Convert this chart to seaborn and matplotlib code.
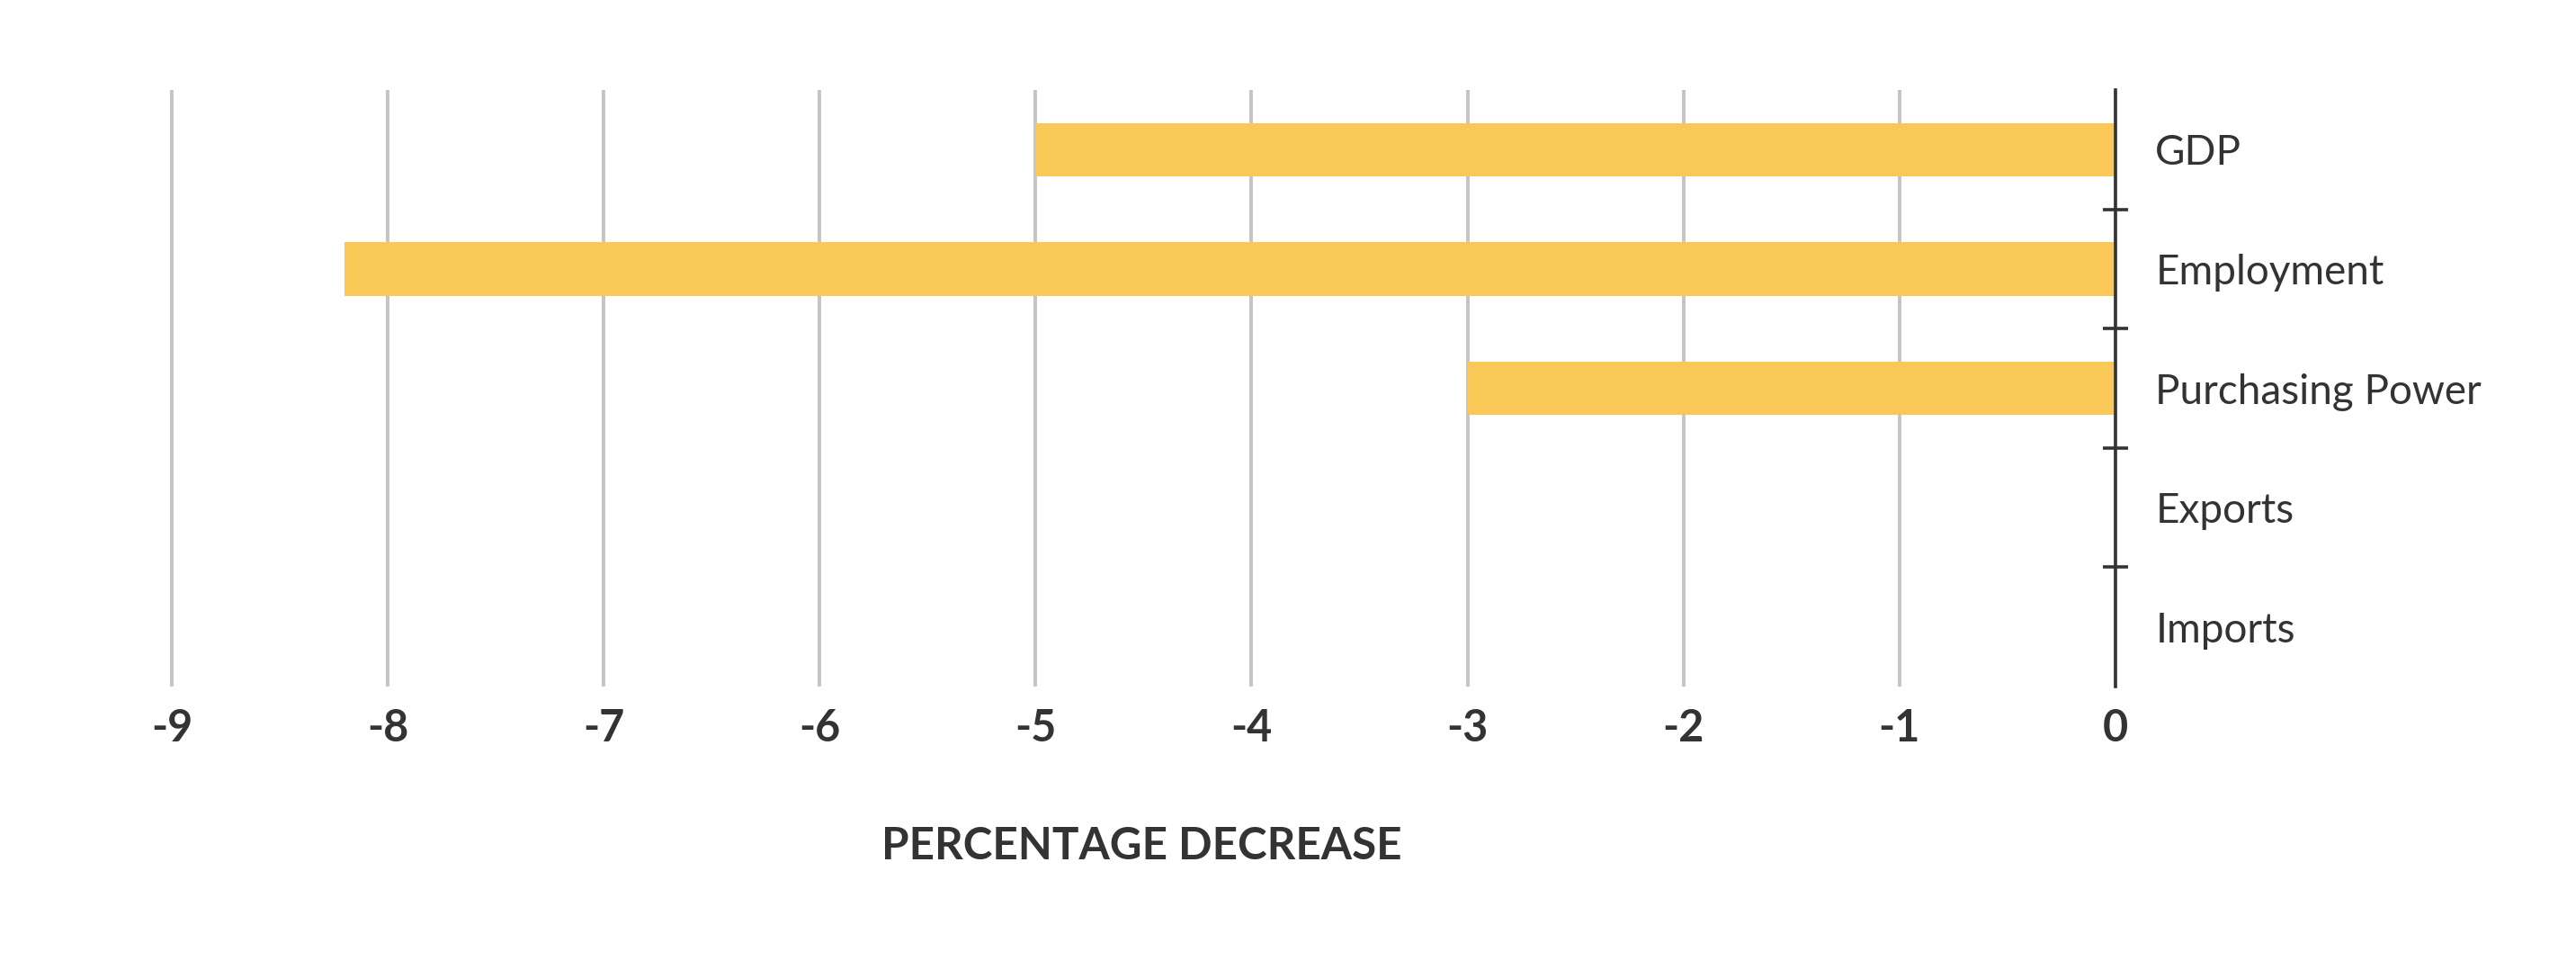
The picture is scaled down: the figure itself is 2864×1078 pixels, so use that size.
import matplotlib
matplotlib.use("Agg")
import matplotlib.pyplot as plt
import seaborn as sns
import pandas as pd

categories = ["GDP", "Employment", "Purchasing Power", "Exports", "Imports"]
values = [-5.0, -8.2, -3.0, 0.0, 0.0]
xticks = [-9, -8, -7, -6, -5, -4, -3, -2, -1, 0]

df = pd.DataFrame({"category": categories, "change": values})

sns.set_style("white")
plt.rcParams["font.family"] = ["Lato", "DejaVu Sans"]

dark = "#333333"
bar_color = "#F9C857"

fig = plt.figure(figsize=(14.32, 5.39), dpi=200)
ax = fig.add_axes([0.0650, 0.2922, 0.8212 - 0.0650, 0.9072 - 0.2922])

sns.barplot(data=df, x="change", y="category", orient="h", color=bar_color,
            saturation=1, width=0.45, linewidth=0, ax=ax, zorder=2)

ax.set_xlim(-9.02, 0)
ax.set_ylim(4.5, -0.5)
ax.set_xticks(xticks)
ax.set_xticklabels([str(t) for t in xticks], fontsize=17.5, fontweight="bold", color=dark)
ax.tick_params(axis="x", length=0, pad=8.5)
ax.grid(axis="x", color="#c4c4c4", linewidth=1.4, zorder=0)
ax.grid(axis="y", visible=False)
ax.set_axisbelow(True)

for s in ["left", "top", "bottom"]:
    ax.spines[s].set_visible(False)
ax.spines["right"].set_color(dark)
ax.spines["right"].set_linewidth(1.3)

# labels on the right, crosses at the category boundaries
ax.yaxis.tick_right()
ax.set_yticks(range(len(categories)))
ax.set_yticklabels(categories, fontsize=16.5, color=dark)
ax.set_yticks([0.5, 1.5, 2.5, 3.5], minor=True)
ax.tick_params(axis="y", which="major", length=0, pad=16)
ax.tick_params(axis="y", which="minor", direction="inout", length=10,
               width=1.3, color=dark, left=False, right=True)
ax.set_ylabel("")

ax.set_xlabel("PERCENTAGE DECREASE", fontsize=17.8, fontweight="bold",
              color=dark, labelpad=31)

fig.savefig("out.png", dpi=200, facecolor="white")
